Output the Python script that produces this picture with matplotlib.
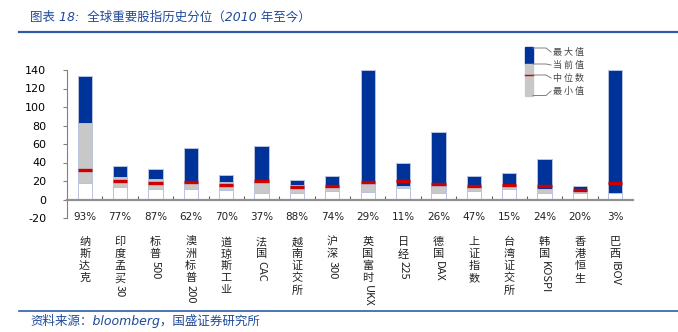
import re
import numpy as np
import matplotlib
matplotlib.use('Agg')
import matplotlib.pyplot as plt
import matplotlib.transforms as mtransforms
from matplotlib.lines import Line2D
from matplotlib.patches import Rectangle

plt.rcParams['font.family'] = ['DejaVu Sans', 'Noto Sans CJK SC']
plt.rcParams['axes.unicode_minus'] = False

# data (PE, since 2010)
names = ['纳斯达克', '印度孟买30', '标普500', '澳洲标普200', '道琼斯工业', '法国CAC',
         '越南证交所', '沪深300', '英国富时UKX', '日经225', '德国DAX', '上证指数',
         '台湾证交所', '韩国KOSPI', '香港恒生', '巴西IBOV']
pct = [93, 77, 87, 62, 70, 37, 88, 74, 29, 11, 26, 47, 15, 24, 20, 3]
max_v = [133, 36, 32.5, 55.5, 27, 57.5, 21.5, 25, 140, 39.5, 73, 25, 29, 44, 15, 140]
cur_v = [82.5, 24, 22.5, 20.5, 18.5, 18.5, 16, 16, 16.5, 15, 15, 14.5, 14.5, 11.5, 9.5, 7]
med_v = [31.5, 20.5, 18, 18.5, 16, 19.5, 13.5, 14.5, 18.5, 20, 17, 15, 16, 14.5, 10.5, 18]
min_v = [18, 13.5, 11.5, 11, 10.5, 7.5, 6.5, 9, 8.5, 12, 7.5, 9, 11, 7, 7, 6.5]

blue = '#003399'
gray = '#C8C8C8'
red = '#CC0000'
edge = '#B8C3DE'
navy = '#1F4A9A'

W, H = 678, 332
fig = plt.figure(figsize=(W / 100, H / 100), dpi=100)
ax = fig.add_axes([67 / W, 1 - 218 / H, (633 - 67) / W, (218 - 70) / H])

x = np.arange(len(names))
mx, cu, md, mn = map(np.array, (max_v, cur_v, med_v, min_v))
bw = 0.4
ax.bar(x, mn, width=bw, color='white', edgecolor=edge, lw=0.7)
ax.bar(x, cu - mn, bottom=mn, width=bw, color=gray, edgecolor=edge, lw=0.7)
ax.bar(x, mx - cu, bottom=cu, width=bw, color=blue, edgecolor=edge, lw=0.7)
ax.hlines(md, x - bw / 2, x + bw / 2, color=red, lw=2.4, zorder=3)

ax.set_xlim(-0.5, len(names) - 0.5)
ax.set_ylim(-20, 140)
ax.set_yticks(np.arange(-20, 141, 20))
ax.tick_params(axis='y', direction='out', length=3, color='#808080', pad=12,
               labelsize=8)
ax.set_xticks(np.arange(0.5, len(names) - 0.5, 1))
ax.tick_params(axis='x', direction='in', length=3, color='#606060', labelbottom=False)
for s in ('top', 'right'):
    ax.spines[s].set_visible(False)
ax.spines['left'].set_color('#808080')
ax.spines['bottom'].set_position(('data', 0))
ax.spines['bottom'].set_color('#909090')
ax.spines['bottom'].set_linewidth(1.6)

for i, p in enumerate(pct):
    ax.text(i, -19, f'{p}%', ha='center', va='center', fontsize=7.5, color='#222222')

# vertical category labels: CJK upright, latin runs rotated
renderer = fig.canvas.get_renderer()
tr = mtransforms.blended_transform_factory(ax.transData, fig.transFigure)
for i, name in enumerate(names):
    ypix = 237
    for run in re.findall(r'[A-Za-z0-9]+|[^A-Za-z0-9]', name):
        if run.isascii():
            t = fig.text(i, 1 - ypix / H, run, transform=tr, rotation=-90,
                         ha='center', va='top', fontsize=8,
                         family=['Noto Sans CJK SC'], color='#222222')
            ext = t.get_window_extent(renderer=renderer)
            ypix += ext.height + 1
        else:
            fig.text(i, 1 - ypix / H, run, transform=tr, ha='center', va='top',
                     fontsize=8, family=['Noto Sans CJK SC'], color='#222222')
            ypix += 12

# legend drawn as a small bar with leader lines
lx0, lx1 = 525, 533
def fy(p):
    return 1 - p / H
fig.add_artist(Rectangle((lx0 / W, fy(64)), (lx1 - lx0) / W, (64 - 47) / H,
                         transform=fig.transFigure, color=blue))
fig.add_artist(Rectangle((lx0 / W, fy(96)), (lx1 - lx0) / W, (96 - 64) / H,
                         transform=fig.transFigure, color=gray))
fig.add_artist(Line2D([lx0 / W, lx1 / W], [fy(75)] * 2, transform=fig.transFigure,
                      color=red, lw=1))
leg_labels = ['最 大 值', '当 前 值', '中 位 数', '最 小 值']
bar_y = [48, 64, 75, 95.5]
lab_y = [52, 65, 78, 91]
for lb, by, ly in zip(leg_labels, bar_y, lab_y):
    fig.add_artist(Line2D([lx1 / W, 546 / W, 551 / W], [fy(by), fy(by), fy(ly)],
                          transform=fig.transFigure, color='#808080', lw=0.7))
    fig.text(553 / W, fy(ly), lb, ha='left', va='center', fontsize=6.5,
             family=['Noto Sans CJK SC'], color='#444444')

# title, source and rules
fig.text(30 / W, fy(17), '图表 18:  全球重要股指历史分位（2010 年至今）', ha='left',
         va='center', fontsize=9, style='italic', color=navy)
fig.add_artist(Line2D([19 / W, 1], [fy(32)] * 2, transform=fig.transFigure,
                      color='#2E5CA8', lw=1.6))
fig.add_artist(Line2D([19 / W, 1], [fy(311)] * 2, transform=fig.transFigure,
                      color='#2E5CA8', lw=1.2))
fig.text(30 / W, fy(321), '资料来源：bloomberg，国盛证券研究所', ha='left', va='center',
         fontsize=9, style='italic', color=navy)

fig.savefig('out.png', dpi=100)
